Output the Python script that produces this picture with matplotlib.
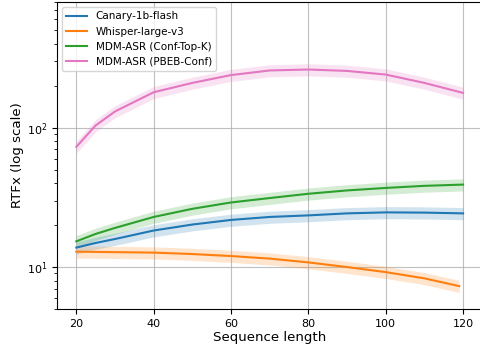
import numpy as np
import matplotlib
matplotlib.use("Agg")
import matplotlib.pyplot as plt

# values (RTFx vs sequence length)
seq_len = [20, 25, 30, 40, 50, 60, 70, 80, 90, 100, 110, 120]
canary = [13.8, 14.9, 15.9, 18.3, 20.2, 21.8, 22.9, 23.5, 24.3, 24.7, 24.6, 24.3]
conf_topk = [15.3, 17.3, 19.1, 22.9, 26.2, 29.1, 31.3, 33.6, 35.5, 37.0, 38.3, 39.1]
pbeb_conf = [73, 104, 131, 180, 210, 239, 258, 262, 256, 241, 210, 178]

whisper_len = [20, 25, 30, 40, 50, 60, 70, 80, 90, 100, 110, 119]
whisper = [12.9, 12.85, 12.8, 12.7, 12.4, 12.0, 11.5, 10.8, 10.0, 9.2, 8.3, 7.3]

series = [
    ("Canary-1b-flash", seq_len, canary, "tab:blue"),
    ("Whisper-large-v3", whisper_len, whisper, "tab:orange"),
    ("MDM-ASR (Conf-Top-K)", seq_len, conf_topk, "tab:green"),
    ("MDM-ASR (PBEB-Conf)", seq_len, pbeb_conf, "tab:pink"),
]

fig = plt.figure(figsize=(4.81, 3.47), dpi=100)
ax = fig.add_axes([57 / 481, 1 - 309 / 347, 425.4 / 481, 307 / 347])

for name, x, y, c in series:
    y = np.array(y, dtype=float)
    ax.fill_between(x, y * 0.9, y * 1.1, color=c, alpha=0.2, linewidth=0)
    ax.plot(x, y, color=c, linewidth=1.5, label=name)

ax.set_yscale("log")
ax.set_xlim(15, 125)
ax.set_ylim(5, 800)
ax.grid(True, which="major", color="#b0b0b0", linewidth=0.8, alpha=0.8)
ax.set_axisbelow(True)
ax.tick_params(labelsize=8)
ax.set_xlabel("Sequence length", fontsize=9.6, labelpad=2)
ax.set_ylabel("RTFx (log scale)", fontsize=9.6, labelpad=2)
ax.legend(loc="upper left", fontsize=7.5)

fig.savefig("out.png", dpi=100)
